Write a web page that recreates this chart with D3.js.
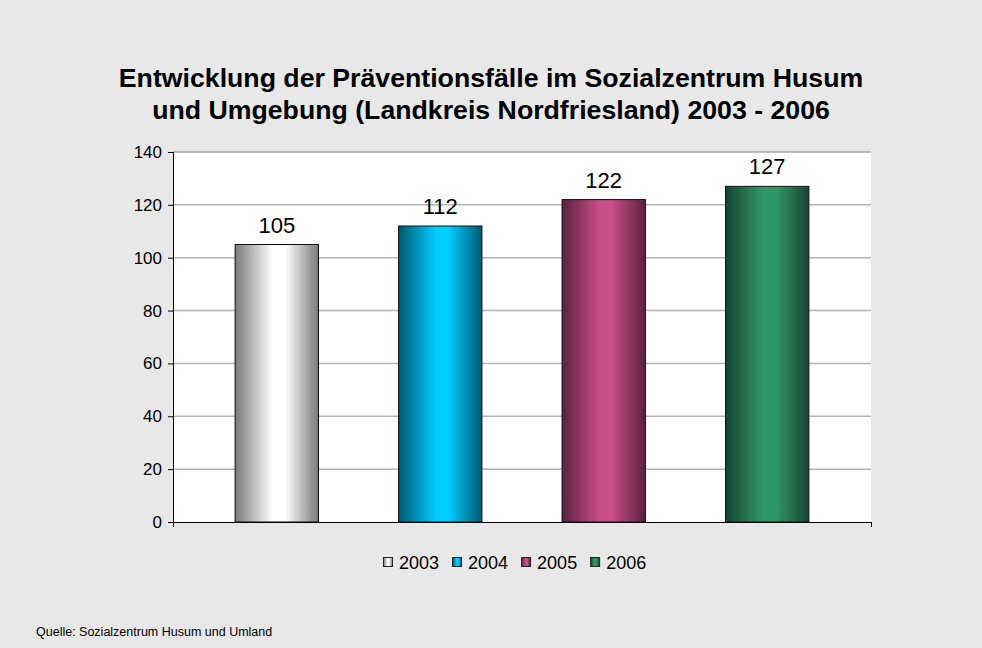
<!DOCTYPE html>
<html><head><meta charset="utf-8">
<script src="https://cdn.jsdelivr.net/npm/d3@7"></script>
<style>body{margin:0;background:#e8e8e8;} svg{display:block;font-family:"Liberation Sans",Arial,sans-serif;}</style>
</head><body>
<script>
const titleLines = ["Entwicklung der Präventionsfälle im Sozialzentrum Husum", "und Umgebung (Landkreis Nordfriesland) 2003 - 2006"];
const years = ["2003", "2004", "2005", "2006"];
const values = [105, 112, 122, 127];
const yTicks = [0, 20, 40, 60, 80, 100, 120, 140];
const edgeColors = ["#7a7a7a", "#005a72", "#5a2040", "#174530"];
const centerColors = ["#ffffff", "#00ccff", "#c84e88", "#309868"];
const sourceText = "Quelle: Sozialzentrum Husum und Umland";

(function () {
const W = 982, H = 648;
const svg = d3.select("body").append("svg").attr("width", W).attr("height", H);
svg.append("rect").attr("width", W).attr("height", H).attr("fill", "#e8e8e8");

const defs = svg.append("defs");
years.forEach((yr, i) => {
  const g = defs.append("linearGradient").attr("id", "g" + i).attr("x1", "0%").attr("x2", "100%").attr("y1", "0%").attr("y2", "0%");
  g.append("stop").attr("offset", "0%").attr("stop-color", edgeColors[i]);
  g.append("stop").attr("offset", "45%").attr("stop-color", centerColors[i]);
  g.append("stop").attr("offset", "60%").attr("stop-color", centerColors[i]);
  g.append("stop").attr("offset", "100%").attr("stop-color", edgeColors[i]);
});

const pLeft = 173, pRight = 871, pTop = 152, pBottom = 522;
const x = d3.scaleBand().domain(years).range([pLeft, pRight]).paddingInner(0.49).paddingOuter(0.38);
const y = d3.scaleLinear().domain([0, 140]).range([pBottom, pTop]);

// title
svg.append("g").selectAll("text").data(titleLines).join("text")
  .attr("x", 491).attr("y", (d, i) => 87 + i * 32)
  .attr("text-anchor", "middle").attr("font-size", 26.7).attr("font-weight", "bold").attr("fill", "#000")
  .text(d => d);

// plot area
svg.append("rect").attr("x", pLeft).attr("y", pTop).attr("width", pRight - pLeft).attr("height", pBottom - pTop).attr("fill", "#fff");

// gridlines
svg.append("g").selectAll("line").data(yTicks.filter(t => t > 0)).join("line")
  .attr("x1", pLeft).attr("x2", pRight).attr("y1", d => y(d)).attr("y2", d => y(d))
  .attr("stroke", d => d === 140 ? "#a8a8a8" : "#b4b4b4").attr("stroke-width", 1.5);

// bars
svg.append("g").selectAll("rect").data(values).join("rect")
  .attr("x", (d, i) => x(years[i])).attr("width", x.bandwidth())
  .attr("y", d => y(d)).attr("height", d => y(0) - y(d))
  .attr("fill", (d, i) => `url(#g${i})`).attr("stroke", "#111").attr("stroke-width", 1);

// value labels
svg.append("g").selectAll("text").data(values).join("text")
  .attr("x", (d, i) => x(years[i]) + x.bandwidth() / 2).attr("y", d => y(d) - 12)
  .attr("text-anchor", "middle").attr("font-size", 22).attr("fill", "#000").text(d => d);

// y axis
const yAxis = d3.axisLeft(y).tickValues(yTicks).tickSize(5).tickPadding(6);
const ya = svg.append("g").attr("transform", `translate(${pLeft},0)`).call(yAxis);
ya.select(".domain").attr("stroke", "#000").attr("d", `M0.5,${pTop}V${pBottom}`);
ya.selectAll(".tick line").attr("stroke", "#000");
ya.selectAll(".tick text").attr("font-size", 17).attr("fill", "#000").attr("font-family", "Liberation Sans, Arial, sans-serif");

// x axis line with end ticks
svg.append("line").attr("x1", pLeft).attr("x2", pRight).attr("y1", pBottom + 0.5).attr("y2", pBottom + 0.5).attr("stroke", "#000");
svg.append("g").selectAll("line").data([pLeft, pRight]).join("line")
  .attr("x1", d => d + 0.5).attr("x2", d => d + 0.5).attr("y1", pBottom).attr("y2", pBottom + 5).attr("stroke", "#000");

// legend
const legend = svg.append("g");
const legendStart = 383, legendY = 562;
let lx = legendStart;
years.forEach((yr, i) => {
  legend.append("rect").attr("x", lx + 0.5).attr("y", legendY - 4.5).attr("width", 9).attr("height", 9)
    .attr("fill", `url(#g${i})`).attr("stroke", "#222").attr("stroke-width", 1);
  const t = legend.append("text").attr("x", lx + 16).attr("y", legendY + 6.5).attr("font-size", 18).attr("fill", "#000").text(yr);
  lx += 16 + t.node().getComputedTextLength() + 13;
});

// source
svg.append("text").attr("x", 36).attr("y", 636).attr("font-size", 12.5).attr("fill", "#000").text(sourceText);
})();
</script>
</body></html>
